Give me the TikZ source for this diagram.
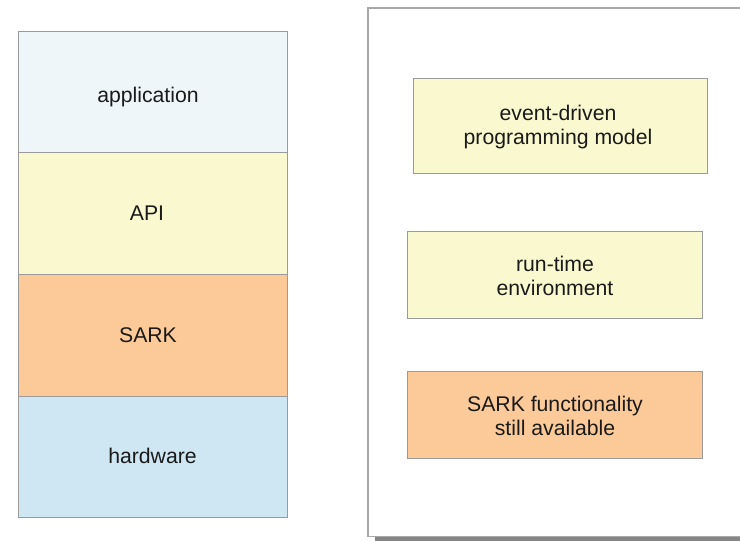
\documentclass[tikz,border=0pt]{standalone}
\usepackage{fontspec}
\setmainfont{Liberation Sans}
\definecolor{appfill}{HTML}{EEF6FA}
\definecolor{apifill}{HTML}{FAF8CF}
\definecolor{sarkfill}{HTML}{FBCA98}
\definecolor{hwfill}{HTML}{CFE6F3}
\definecolor{edge}{HTML}{9A9A9A}
\definecolor{paneledge}{HTML}{A8A8A8}
\definecolor{shadowgrey}{HTML}{858585}
\definecolor{ink}{HTML}{1A1A1A}
\begin{document}
\begin{tikzpicture}[x=1bp,y=-1bp,
  txt/.style={text=ink,font=\fontsize{21.3}{24.2}\selectfont,align=center},
  layer/.style={draw=edge,line width=1bp},
  featbox/.style={draw=edge,line width=1bp}]
\useasboundingbox (0,0) rectangle (740,541);
\fill[white] (0,0) rectangle (740,541);

% layered stack
\draw[layer,fill=appfill] (18,31.5) rectangle (287,153);
\draw[layer,fill=apifill] (18,153) rectangle (287,274.5);
\draw[layer,fill=sarkfill] (18,274.5) rectangle (287,396);
\draw[layer,fill=hwfill] (18,396) rectangle (287,517);
\node[txt] (app) at (148,97) {application};
\node[txt] (api) at (147,213.5) {API};
\node[txt] (sark) at (148,335) {SARK};
\node[txt] (hw) at (152.5,456) {hardware};

% panel with drop shadow
\fill[shadowgrey] (375,15) rectangle (760,548);
\draw[paneledge,line width=1.6bp,fill=white] (368,8) rectangle (755,536.5);

% feature boxes
\draw[featbox,fill=apifill] (413,79) rectangle (707.5,174);
\draw[featbox,fill=apifill] (407.5,231.5) rectangle (702.5,318);
\draw[featbox,fill=sarkfill] (407.5,371.5) rectangle (702.5,458);
\node[txt] (edp) at (558,127) {event-driven\\programming model};
\node[txt] (rte) at (555,276) {run-time\\environment};
\node[txt] (sfa) at (555,416) {SARK functionality\\still available};
\end{tikzpicture}
\end{document}
